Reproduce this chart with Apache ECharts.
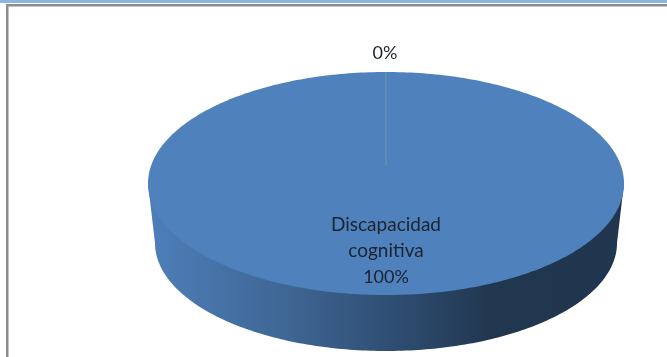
<!DOCTYPE html>
<html><head><meta charset="utf-8">
<style>html,body{margin:0;padding:0;background:#fff}#c{width:667px;height:357px}</style>
<script src="https://cdn.jsdelivr.net/npm/echarts@6/dist/echarts.min.js"></script>
</head><body><div id="c"></div>
<script>
const categories = ['Discapacidad\ncognitiva', ''];
const values = [100, 0];
const percentLabels = ['100%', '0%'];
const labelPositions = [[386, 251], [385, 53]];

const topEllipse = {cx: 386, cy: 183.5, rx: 238, ry: 111.5};
const baseEllipse = {cx: 386, cy: 243, rx: 231, ry: 108};
const apex = [386, 165];
const total = values.reduce((a, b) => a + b, 0);

function pt(e, deg) {
  const t = deg * Math.PI / 180;
  return [e.cx + e.rx * Math.sin(t), e.cy - e.ry * Math.cos(t)];
}
function sliceRange(i) {
  let s = 0;
  for (let k = 0; k < i; k++) s += values[k];
  return [s / total * 360, (s + values[i]) / total * 360];
}
function renderItem(params, api) {
  const i = params.dataIndex;
  const [a0, a1] = sliceRange(i);
  const children = [];
  if (a1 > a0) {
    const from = Math.max(a0, 90), to = Math.min(a1, 270);
    if (to > from) {
      const side = [pt(topEllipse, from)];
      for (let a = from; a <= to; a += 1) side.push(pt(baseEllipse, a));
      side.push(pt(topEllipse, to));
      children.push({type: 'polygon', shape: {points: side}, style: {
        fill: new echarts.graphic.LinearGradient(0, 0, 1, 0, [
          {offset: 0, color: '#4e7fba'},
          {offset: 0.3, color: '#3e6593'},
          {offset: 0.5, color: '#304f75'},
          {offset: 0.72, color: '#213750'},
          {offset: 1, color: '#20364f'}
        ])
      }});
    }
    const face = [];
    for (let a = a0; a <= a1; a += 1) face.push(pt(topEllipse, a));
    children.push({type: 'polygon', shape: {points: face}, style: {fill: '#4f81bd'}});
  } else {
    const p = pt(topEllipse, a0);
    children.push({type: 'line', shape: {x1: apex[0], y1: apex[1], x2: p[0], y2: p[1]},
      style: {stroke: '#6f97a8', lineWidth: 1}});
  }
  const text = (categories[i] ? categories[i].split('\n').map(s => '{n|' + s + '}').join('\n') + '\n' : '') + '{p|' + percentLabels[i] + '}';
  children.push({type: 'text', z2: 10, style: {
    x: labelPositions[i][0], y: labelPositions[i][1], text,
    align: 'center', verticalAlign: 'middle',
    rich: {
      n: {font: '19px Lato', lineHeight: 26, fill: '#1b2430', align: 'center'},
      p: {font: '18px Lato', lineHeight: 26, fill: '#1b2430', align: 'center'}
    }
  }});
  return {type: 'group', children};
}
const chart = echarts.init(document.getElementById('c'), null, {renderer: 'canvas'});
chart.setOption({
  animation: false,
  graphic: [
    {type: 'rect', shape: {x: 0, y: 0, width: 667, height: 3}, style: {fill: '#8db4e2'}},
    {type: 'rect', shape: {x: 6, y: 4, width: 661, height: 2.5}, style: {fill: '#8c8c8c'}},
    {type: 'rect', shape: {x: 6, y: 4, width: 2.5, height: 353}, style: {fill: '#8c8c8c'}}
  ],
  series: [{
    type: 'custom', coordinateSystem: 'none', silent: true,
    renderItem,
    data: values.map(v => [v])
  }]
});
</script></body></html>
